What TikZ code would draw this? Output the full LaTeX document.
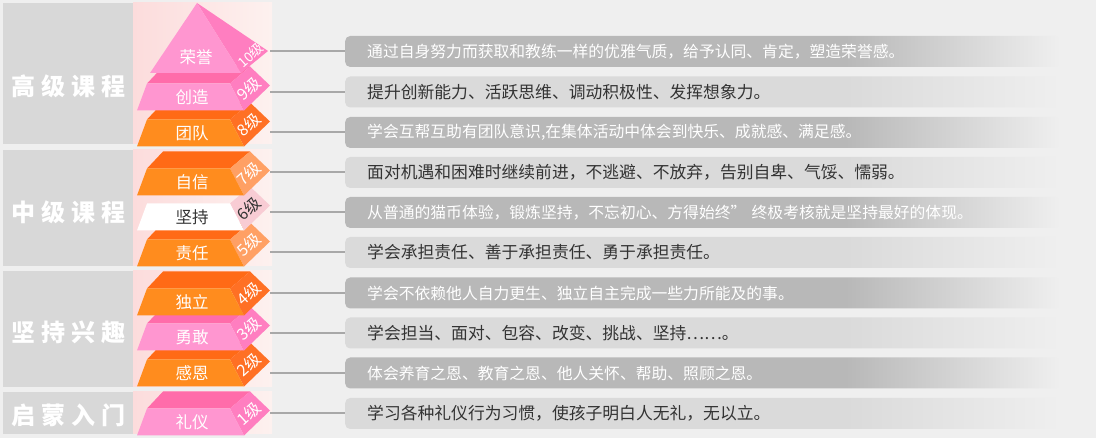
\documentclass[tikz,border=0pt]{standalone}
\usepackage{fontspec}
\setmainfont{Noto Sans CJK SC}
\usetikzlibrary{positioning}
\definecolor{pageGrey}{RGB}{239,239,239}
\definecolor{panelGrey}{RGB}{216,216,216}
\definecolor{panelPinkL}{RGB}{252,220,220}
\definecolor{panelPinkR}{RGB}{253,241,239}
\definecolor{pinkFront}{RGB}{255,150,208}
\definecolor{pinkTop}{RGB}{255,108,170}
\definecolor{pinkSide}{RGB}{255,126,192}
\definecolor{orangeFront}{RGB}{255,140,30}
\definecolor{orangeTop}{RGB}{255,106,22}
\definecolor{orangeSide}{RGB}{255,112,36}
\definecolor{orangeSideLight}{RGB}{255,160,100}
\definecolor{tagPale}{RGB}{248,204,212}
\definecolor{barDark}{RGB}{184,184,184}
\definecolor{barLight}{RGB}{218,218,218}
\definecolor{lineGrey}{RGB}{168,168,168}
\definecolor{inkGrey}{RGB}{51,51,51}
\pgfdeclarehorizontalshading{barDarkFade}{100bp}{color(0bp)=(barDark); color(25bp)=(barDark); color(60bp)=(barDark); color(75bp)=(pageGrey); color(100bp)=(pageGrey)}
\pgfdeclarehorizontalshading{barLightFade}{100bp}{color(0bp)=(barLight); color(25bp)=(barLight); color(60bp)=(barLight); color(75bp)=(pageGrey); color(100bp)=(pageGrey)}
% one step of the pyramid: id, top of front face, front, top, side colours, label, text colour, tag
\newcommand{\slab}[8]{%
  \path[fill=#4] (147,#2) -- (163,#2-17) -- (250,#2-17) -- (230,#2) -- cycle;
  \path[fill=#5] (230,#2) -- (250,#2-17) -- (270,#2+2) -- (244,#2+27) -- cycle;
  \path[fill=#3] (147,#2) -- (230,#2) -- (244,#2+27) -- (137,#2+27) -- cycle;
  \node[lvl,text=#7] (lvl#1) at (192,#2+13.5) {#6};
  \node[tag,text=#7] (tag#1) at (249,#2+5) {#8};
}

\begin{document}
\begin{tikzpicture}[x=1pt,y=-1pt,
  bar/.style={anchor=west,rounded corners=5pt,minimum height=31pt,text width=671pt,inner xsep=22pt,inner ysep=0pt,align=left},
  barA/.style={bar,shade,shading=barDarkFade,text=white,font=\fontsize{15.8}{18}\selectfont},
  barB/.style={bar,shade,shading=barLightFade,text=inkGrey,font=\fontsize{16.8}{18}\selectfont},
  link/.style={lineGrey,line width=2pt},
  lvl/.style={font=\fontsize{16.5}{18}\selectfont,inner sep=0pt},
  tag/.style={font=\fontsize{16}{18}\selectfont,inner sep=0pt,rotate=42},
  grp/.style={font=\bfseries\fontsize{24}{26}\selectfont,text=white,inner sep=0pt}]
  \fill[pageGrey] (0,0) rectangle (1096,438);
  \useasboundingbox (0,0) rectangle (1096,438);
  % left panels
  \fill[panelGrey] (3,3) rectangle (133,144);
  \fill[panelGrey] (3,150) rectangle (133,266);
  \fill[panelGrey] (3,271) rectangle (133,387);
  \fill[panelGrey] (3,392) rectangle (133,434);
  \shade[left color=panelPinkL,right color=panelPinkR] (133,3) rectangle (272,144);
  \shade[left color=panelPinkL,right color=panelPinkR] (133,150) rectangle (272,266);
  \shade[left color=panelPinkL,right color=panelPinkR] (133,271) rectangle (272,387);
  \shade[left color=panelPinkL,right color=panelPinkR] (133,392) rectangle (272,434);
  \node[grp] (grpHigh) at (69,86) {高\hspace{6pt}级\hspace{6pt}课\hspace{6pt}程};
  \node[grp] (grpMid) at (69,212) {中\hspace{6pt}级\hspace{6pt}课\hspace{6pt}程};
  \node[grp] (grpKeep) at (69,332) {坚\hspace{6pt}持\hspace{6pt}兴\hspace{6pt}趣};
  \node[grp] (grpStart) at (69,415) {启\hspace{6pt}蒙\hspace{6pt}入\hspace{6pt}门};
  % pyramid, bottom step first
  \slab{1}{408.5}{pinkFront}{pinkTop}{pinkSide}{礼仪}{white}{1级}
  \slab{2}{359.5}{orangeFront}{orangeTop}{orangeSide}{感恩}{white}{2级}
  \slab{3}{323.5}{pinkFront}{pinkTop}{pinkSide}{勇敢}{white}{3级}
  \slab{4}{288.5}{orangeFront}{orangeTop}{orangeSide}{独立}{white}{4级}
  \slab{5}{239.5}{orangeFront}{orangeTop}{orangeSideLight}{责任}{white}{5级}
  \slab{6}{203.5}{white}{none}{tagPale}{坚持}{inkGrey}{6级}
  \slab{7}{168.5}{orangeFront}{orangeTop}{orangeSideLight}{自信}{white}{7级}
  \slab{8}{119.5}{orangeFront}{orangeTop}{orangeSide}{团队}{white}{8级}
  \slab{9}{83.5}{pinkFront}{pinkTop}{pinkSide}{创造}{white}{9级}
  \fill[pinkSide] (197,3) -- (268,51) -- (241,73) -- cycle;
  \fill[pinkFront] (197,3) -- (241,73) -- (150,73) -- cycle;
  \node[lvl,text=white] (lvl10) at (196,57) {荣誉};
  \node[tag,text=white,font=\fontsize{13.5}{15}\selectfont] (tag10) at (251,55) {10级};
  % descriptions
  \node[barA] (desc10) at (345,51.5) {通过自身努力而获取和教练一样的优雅气质，给予认同、肯定，塑造荣誉感。};
  \node[barB] (desc9) at (345,92) {提升创新能力、活跃思维、调动积极性、发挥想象力。};
  \node[barA] (desc8) at (345,132.5) {学会互帮互助有团队意识,在集体活动中体会到快乐、成就感、满足感。};
  \node[barB] (desc7) at (345,172.5) {面对机遇和困难时继续前进，不逃避、不放弃，告别自卑、气馁、懦弱。};
  \node[barA] (desc6) at (345,212.5) {从普通的猫币体验，锻炼坚持，不忘初心、方得始终” 终极考核就是坚持最好的体现。};
  \node[barB] (desc5) at (345,252.5) {学会承担责任、善于承担责任、勇于承担责任。};
  \node[barA] (desc4) at (345,293) {学会不依赖他人自力更生、独立自主完成一些力所能及的事。};
  \node[barB] (desc3) at (345,333) {学会担当、面对、包容、改变、挑战、坚持……。};
  \node[barA] (desc2) at (345,373) {体会养育之恩、教育之恩、他人关怀、帮助、照顾之恩。};
  \node[barB] (desc1) at (345,413.5) {学习各种礼仪行为习惯，使孩子明白人无礼，无以立。};
  % connectors
  \coordinate (c10) at (270,51.5);
  \coordinate (c9) at (270,92);
  \coordinate (c8) at (270,132.5);
  \coordinate (c7) at (270,172.5);
  \coordinate (c6) at (270,212.5);
  \coordinate (c5) at (270,252.5);
  \coordinate (c4) at (270,293);
  \coordinate (c3) at (270,333);
  \coordinate (c2) at (270,373);
  \coordinate (c1) at (270,413.5);
  \draw[link] (c10) -- (desc10.west);
  \draw[link] (c9) -- (desc9.west);
  \draw[link] (c8) -- (desc8.west);
  \draw[link] (c7) -- (desc7.west);
  \draw[link] (c6) -- (desc6.west);
  \draw[link] (c5) -- (desc5.west);
  \draw[link] (c4) -- (desc4.west);
  \draw[link] (c3) -- (desc3.west);
  \draw[link] (c2) -- (desc2.west);
  \draw[link] (c1) -- (desc1.west);
\end{tikzpicture}
\end{document}
